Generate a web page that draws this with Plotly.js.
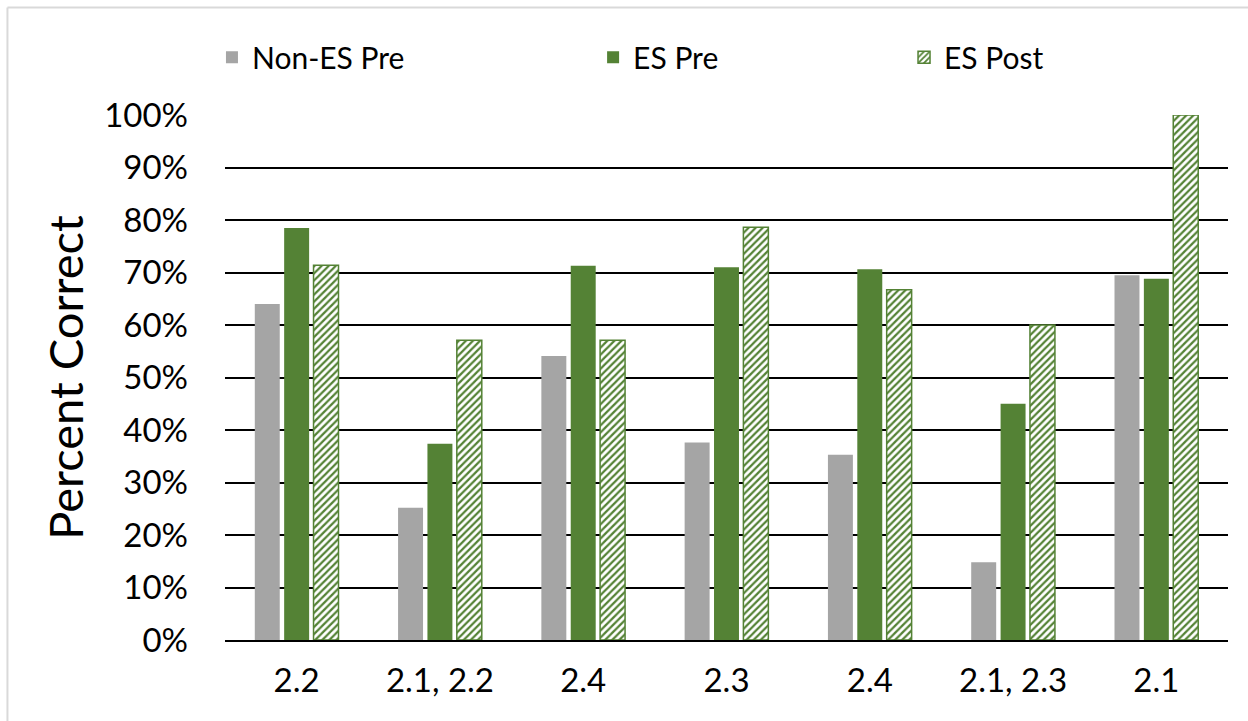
<!DOCTYPE html>
<html>
<head>
<meta charset="utf-8">
<script src="https://cdn.plot.ly/plotly-3.0.1.min.js"></script>
<style>
  html, body { margin: 0; padding: 0; background: #fff; overflow: hidden; }
  #chart { width: 1248px; height: 721px; }
</style>
</head>
<body>
<div id="chart"></div>
<script>
// Data
const categories = ["2.2", "2.1, 2.2", "2.4", "2.3", "2.4", "2.1, 2.3", "2.1"];
const nonEsPre = [64.0, 25.2, 54.1, 37.6, 35.3, 14.8, 69.5];
const esPre    = [78.5, 37.4, 71.3, 71.0, 70.6, 45.0, 68.8];
const esPost   = [71.4, 57.1, 57.1, 78.6, 66.7, 60.0, 100.0];
const seriesNames = ["Non-ES Pre", "ES Pre", "ES Post"];

const positions = categories.map((_, i) => i);
const FONT = "Lato, 'Noto Sans', sans-serif";
const GREEN = "#548235";
const GRAY = "#A5A5A5";

const traces = [
  {
    type: "bar", name: seriesNames[0], x: positions, y: nonEsPre,
    marker: { color: GRAY, line: { width: 0 } }, legend: "legend"
  },
  {
    type: "bar", name: seriesNames[1], x: positions, y: esPre,
    marker: { color: GREEN, line: { width: 0 } }, legend: "legend2"
  },
  {
    type: "bar", name: seriesNames[2], x: positions, y: esPost,
    marker: {
      color: "#ffffff",
      line: { color: GREEN, width: 1.5 },
      pattern: { shape: "/", fgcolor: GREEN, bgcolor: "#ffffff", size: 5, solidity: 0.45, fillmode: "replace" }
    },
    legend: "legend3"
  }
];

const legendBase = {
  orientation: "h", yanchor: "middle", xanchor: "left", y: 1.11,
  font: { family: FONT, size: 30, color: "#000" },
  bgcolor: "rgba(0,0,0,0)", itemclick: false
};

const layout = {
  width: 1248, height: 721,
  margin: { l: 225, r: 20, t: 115, b: 81 },
  paper_bgcolor: "#fff", plot_bgcolor: "#fff",
  font: { family: FONT, color: "#000" },
  barmode: "group",
  bargap: 0.385,
  bargroupgap: 0.15,
  showlegend: true,
  legend: Object.assign({}, legendBase, { x: -0.013 }),
  legend2: Object.assign({}, legendBase, { x: 0.367 }),
  legend3: Object.assign({}, legendBase, { x: 0.677 }),
  xaxis: {
    range: [-0.5, 6.5],
    tickmode: "array", tickvals: positions, ticktext: categories,
    tickfont: { family: FONT, size: 33, color: "#000" },
    showgrid: false, showline: true, linecolor: "#000", linewidth: 2,
    ticks: "", ticklabelstandoff: 10, zeroline: false, fixedrange: true
  },
  yaxis: {
    range: [0, 100], dtick: 10, tick0: 0, ticksuffix: "%",
    tickfont: { family: FONT, size: 33, color: "#000" },
    showgrid: true, gridcolor: "#000", gridwidth: 2,
    zeroline: false, showline: false, ticks: "",
    ticklabelstandoff: 36,
    title: { text: "Percent Correct", font: { family: FONT, size: 47, color: "#000" }, standoff: 5 },
    fixedrange: true
  },
  shapes: [
    { type: "line", xref: "paper", yref: "paper", x0: -0.2169, x1: 1.05, y0: 1.2048, y1: 1.2048,
      line: { color: "#D9D9D9", width: 2 } },
    { type: "line", xref: "paper", yref: "paper", x0: -0.2169, x1: -0.2169, y0: 1.2048, y1: -0.3,
      line: { color: "#D9D9D9", width: 2 } }
  ]
};

Plotly.newPlot("chart", traces, layout, { displayModeBar: false, staticPlot: true });
</script>
</body>
</html>
